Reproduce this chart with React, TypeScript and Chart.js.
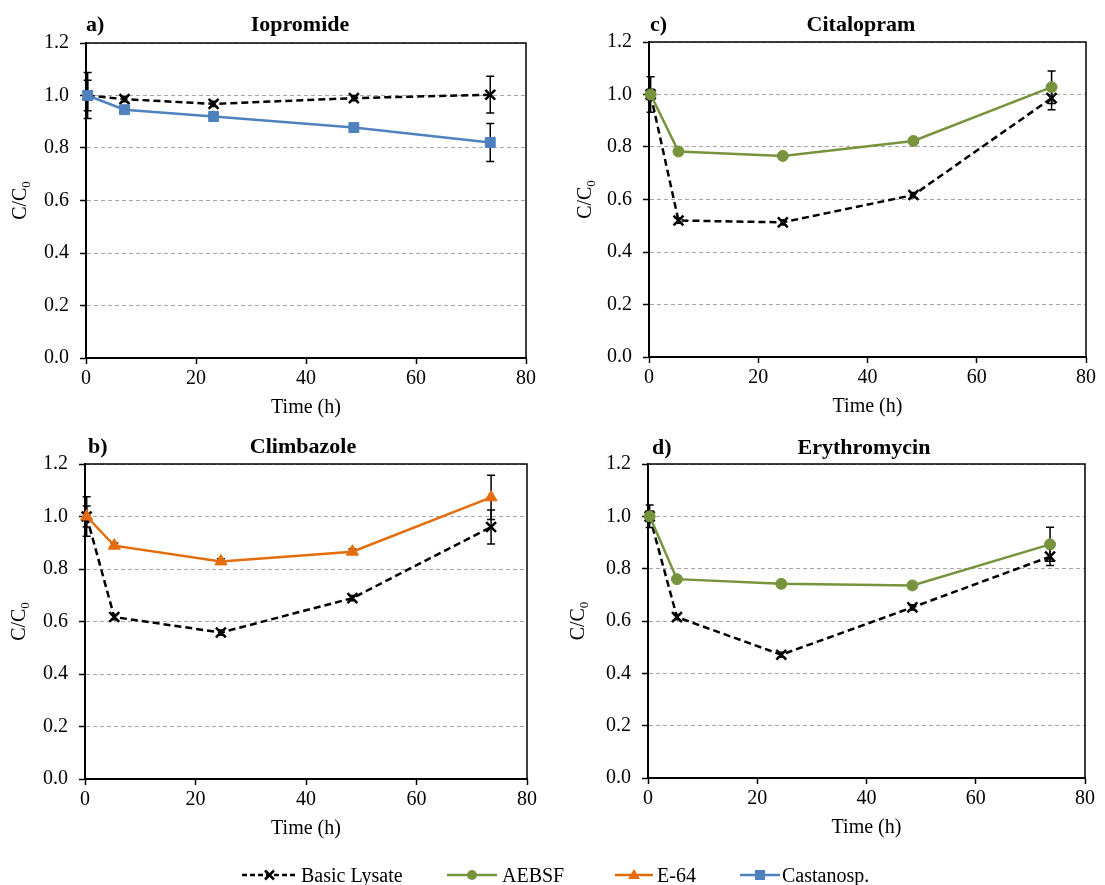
import React, { useEffect, useRef } from "react";
import { Chart, registerables } from "chart.js";

Chart.register(...registerables);

// ---------- data ----------
const xTicks = [0, 20, 40, 60, 80];
const yTicks = [0, 0.2, 0.4, 0.6, 0.8, 1.0, 1.2];

// a) Iopromide
const timesA = [0.3, 7, 23.2, 48.7, 73.5];
const basicA = [1.0, 0.986, 0.968, 0.99, 1.003];
const basicErrA = [0.088, 0.01, 0.01, 0.01, 0.07];
const castanospA = [1.0, 0.946, 0.92, 0.878, 0.821];
const castanospErrA = [0.058, 0.01, 0.01, 0.01, 0.072];

// c) Citalopram
const timesC = [0.3, 5.4, 24.5, 48.4, 73.7];
const basicC = [1.0, 0.52, 0.513, 0.617, 0.986];
const basicErrC = [0.068, 0.01, 0.01, 0.01, 0.044];
const aebsfC = [1.0, 0.783, 0.766, 0.823, 1.028];
const aebsfErrC = [0.02, 0.01, 0.01, 0.01, 0.062];

// b) Climbazole
const timesB = [0.3, 5.3, 24.6, 48.4, 73.5];
const basicB = [1.0, 0.617, 0.558, 0.689, 0.96];
const basicErrB = [0.075, 0.01, 0.01, 0.01, 0.065];
const e64B = [1.0, 0.889, 0.829, 0.866, 1.073];
const e64ErrB = [0.04, 0.01, 0.01, 0.01, 0.084];

// d) Erythromycin
const timesD = [0.3, 5.3, 24.4, 48.4, 73.6];
const basicD = [1.0, 0.615, 0.471, 0.652, 0.846];
const basicErrD = [0.043, 0.01, 0.01, 0.01, 0.034];
const aebsfD = [1.0, 0.76, 0.742, 0.736, 0.893];
const aebsfErrD = [0.02, 0.01, 0.01, 0.01, 0.065];

const seriesNames = ["Basic Lysate", "AEBSF", "E-64", "Castanosp."];

// ---------- styles ----------
const FONT = "'Liberation Serif', 'Times New Roman', serif";
const BLACK = "#000000";
const GREEN = "#77933C";
const ORANGE = "#E46C0A";
const BLUE = "#4F81BD";

const basicStyle = { color: BLACK, dash: [7, 4], point: "crossRot", radius: 7 };
const aebsfStyle = { color: GREEN, dash: [], point: "circle", radius: 5.5 };
const e64Style = { color: ORANGE, dash: [], point: "triangle", radius: 7 };
const castStyle = { color: BLUE, dash: [], point: "rect", radius: 7 };

const panels = [
  {
    label: "a)", title: "Iopromide", times: timesA,
    series: [
      { name: seriesNames[3], values: castanospA, errors: castanospErrA, style: castStyle },
      { name: seriesNames[0], values: basicA, errors: basicErrA, style: basicStyle },
    ],
    area: { l: 86, t: 43, r: 526, b: 358 }, labelX: 86, titleX: 300, titleY: 25, yTitleX: 19,
  },
  {
    label: "c)", title: "Citalopram", times: timesC,
    series: [
      { name: seriesNames[1], values: aebsfC, errors: aebsfErrC, style: aebsfStyle },
      { name: seriesNames[0], values: basicC, errors: basicErrC, style: basicStyle },
    ],
    area: { l: 649, t: 42, r: 1086, b: 357 }, labelX: 650, titleX: 861, titleY: 25, yTitleX: 584,
  },
  {
    label: "b)", title: "Climbazole", times: timesB,
    series: [
      { name: seriesNames[2], values: e64B, errors: e64ErrB, style: e64Style },
      { name: seriesNames[0], values: basicB, errors: basicErrB, style: basicStyle },
    ],
    area: { l: 85, t: 464, r: 527, b: 779 }, labelX: 88, titleX: 303, titleY: 447, yTitleX: 18,
  },
  {
    label: "d)", title: "Erythromycin", times: timesD,
    series: [
      { name: seriesNames[1], values: aebsfD, errors: aebsfErrD, style: aebsfStyle },
      { name: seriesNames[0], values: basicD, errors: basicErrD, style: basicStyle },
    ],
    area: { l: 648, t: 464, r: 1085, b: 778 }, labelX: 652, titleX: 864, titleY: 448, yTitleX: 577,
  },
];

const W = 1105;
const H = 885;
const YW = 60;
const XH = 40;

const errorBarsPlugin = {
  id: "errorBars",
  beforeDatasetsDraw(chart: any) {
    const { ctx, scales } = chart;
    const x = scales.x;
    const y = scales.y;
    ctx.save();
    ctx.strokeStyle = BLACK;
    ctx.lineWidth = 1.5;
    chart.data.datasets.forEach((ds: any) => {
      const errs = ds.errors as number[];
      if (!errs) return;
      ds.data.forEach((p: any, j: number) => {
        const e = errs[j];
        if (!e) return;
        const px = x.getPixelForValue(p.x);
        const y1 = y.getPixelForValue(p.y + e);
        const y2 = y.getPixelForValue(p.y - e);
        ctx.beginPath();
        ctx.moveTo(px, y1);
        ctx.lineTo(px, y2);
        ctx.moveTo(px - 4, y1);
        ctx.lineTo(px + 4, y1);
        ctx.moveTo(px - 4, y2);
        ctx.lineTo(px + 4, y2);
        ctx.stroke();
      });
    });
    ctx.restore();
  },
};

function makeDecorPlugin(cfg: any) {
  return {
    id: "decor",
    afterDraw(chart: any) {
      const { ctx, chartArea } = chart;
      ctx.save();
      // top and right frame lines
      ctx.strokeStyle = BLACK;
      ctx.lineWidth = 1.5;
      ctx.beginPath();
      ctx.moveTo(chartArea.left, chartArea.top);
      ctx.lineTo(chartArea.right, chartArea.top);
      ctx.lineTo(chartArea.right, chartArea.bottom);
      ctx.stroke();

      ctx.fillStyle = BLACK;
      // panel label and title
      ctx.font = `bold 22px ${FONT}`;
      ctx.textBaseline = "middle";
      ctx.textAlign = "left";
      ctx.fillText(cfg.label, cfg.labelX, cfg.titleY);
      ctx.textAlign = "center";
      ctx.fillText(cfg.title, cfg.titleX, cfg.titleY);

      // x title
      ctx.font = `20px ${FONT}`;
      ctx.textAlign = "center";
      ctx.textBaseline = "middle";
      ctx.fillText("Time (h)", (chartArea.left + chartArea.right) / 2, chartArea.bottom + 50);

      // y title C/C0 rotated
      const cy = (chartArea.top + chartArea.bottom) / 2;
      ctx.translate(cfg.yTitleX + 6.5, cy);
      ctx.rotate(-Math.PI / 2);
      ctx.textBaseline = "alphabetic";
      ctx.textAlign = "left";
      ctx.font = `20px ${FONT}`;
      const main = "C/C";
      const mw = ctx.measureText(main).width;
      ctx.font = `13px ${FONT}`;
      const sw = ctx.measureText("0").width;
      const total = mw + sw;
      ctx.font = `20px ${FONT}`;
      ctx.fillText(main, -total / 2, 0);
      ctx.font = `13px ${FONT}`;
      ctx.fillText("0", -total / 2 + mw, 4);
      ctx.restore();
    },
  };
}

function Panel({ cfg }: { cfg: any }) {
  const ref = useRef<HTMLCanvasElement>(null);
  useEffect(() => {
    if (!ref.current) return;
    const { l, t, r, b } = cfg.area;
    const datasets = cfg.series.map((s: any, i: number) => ({
      label: s.name,
      data: cfg.times.map((x: number, j: number) => ({ x, y: s.values[j] })),
      errors: s.errors,
      borderColor: s.style.color,
      backgroundColor: s.style.color,
      borderWidth: 2.5,
      borderDash: s.style.dash,
      pointStyle: s.style.point,
      pointRadius: s.style.radius,
      pointBorderWidth: s.style.point === "crossRot" ? 2.5 : 1,
      pointBackgroundColor: s.style.color,
      pointBorderColor: s.style.color,
      order: i,
      clip: false,
      tension: 0,
    }));
    const tickFont = { family: FONT, size: 20 };
    const chart = new Chart(ref.current, {
      type: "line",
      data: { datasets },
      options: {
        animation: false,
        responsive: false,
        devicePixelRatio: 1,
        events: [],
        layout: {
          autoPadding: false,
          padding: { left: l - YW, top: t, right: W - r, bottom: H - b - XH },
        },
        plugins: {
          legend: { display: false },
          tooltip: { enabled: false },
          title: { display: false },
        },
        scales: {
          x: {
            type: "linear",
            min: 0,
            max: 80,
            afterBuildTicks: (s: any) => {
              s.ticks = xTicks.map((v) => ({ value: v }));
            },
            afterFit: (s: any) => {
              s.height = XH;
            },
            grid: {
              drawOnChartArea: false,
              drawTicks: true,
              tickLength: 6,
              tickColor: BLACK,
              tickWidth: 1.5,
            },
            border: { color: BLACK, width: 2 },
            ticks: {
              color: BLACK,
              font: tickFont,
              padding: 3,
              maxRotation: 0,
              autoSkip: false,
              callback: (v: any) => String(v),
            },
          },
          y: {
            type: "linear",
            min: 0,
            max: 1.2,
            afterBuildTicks: (s: any) => {
              s.ticks = yTicks.map((v) => ({ value: v }));
            },
            afterFit: (s: any) => {
              s.width = YW;
            },
            grid: {
              color: "#A6A6A6",
              lineWidth: 1,
              drawTicks: true,
              tickLength: 6,
              tickColor: BLACK,
              tickWidth: 1.5,
            },
            border: { color: BLACK, width: 2, dash: [4, 3] },
            ticks: {
              color: BLACK,
              font: tickFont,
              padding: 11,
              autoSkip: false,
              callback: (v: any) => Number(v).toFixed(1),
            },
          },
        },
      } as any,
      plugins: [errorBarsPlugin, makeDecorPlugin(cfg)],
    });
    return () => chart.destroy();
  }, [cfg]);
  return (
    <canvas
      ref={ref}
      width={W}
      height={H}
      style={{ position: "absolute", left: 0, top: 0, width: W, height: H }}
    />
  );
}

const legendItems = [
  { name: seriesNames[0], style: basicStyle, lineX: 242, lineW: 55, textX: 301 },
  { name: seriesNames[1], style: aebsfStyle, lineX: 447, lineW: 50, textX: 502 },
  { name: seriesNames[2], style: e64Style, lineX: 615, lineW: 38, textX: 657 },
  { name: seriesNames[3], style: castStyle, lineX: 740, lineW: 40, textX: 782 },
];

function LegendMarker({ item }: { item: any }) {
  const w = item.lineW;
  const cx = w / 2;
  const cy = 10;
  const c = item.style.color;
  let marker: any = null;
  if (item.style.point === "crossRot") {
    marker = <path d={`M${cx - 4.5} ${cy - 4.5} L${cx + 4.5} ${cy + 4.5} M${cx + 4.5} ${cy - 4.5} L${cx - 4.5} ${cy + 4.5}`} stroke={c} strokeWidth={2.5} />;
  } else if (item.style.point === "circle") {
    marker = <circle cx={cx} cy={cy} r={5} fill={c} />;
  } else if (item.style.point === "triangle") {
    marker = <path d={`M${cx} ${cy - 6} L${cx + 6} ${cy + 4} L${cx - 6} ${cy + 4} Z`} fill={c} />;
  } else {
    marker = <rect x={cx - 5} y={cy - 5} width={10} height={10} fill={c} />;
  }
  return (
    <svg width={w} height={20} style={{ position: "absolute", left: item.lineX, top: 865 }}>
      <line
        x1={0}
        y1={cy}
        x2={w}
        y2={cy}
        stroke={c}
        strokeWidth={2.5}
        strokeDasharray={item.style.dash.length ? "5,3" : undefined}
      />
      {marker}
    </svg>
  );
}

export default function App() {
  return (
    <div style={{ position: "absolute", left: 0, top: 0, width: W, height: H, background: "#fff", overflow: "hidden" }}>
      {panels.map((p) => (
        <Panel key={p.label} cfg={p} />
      ))}
      {legendItems.map((it) => (
        <React.Fragment key={it.name}>
          <LegendMarker item={it} />
          <div
            style={{
              position: "absolute",
              left: it.textX,
              top: 862,
              fontFamily: FONT,
              fontSize: 20,
              lineHeight: "26px",
              color: "#000",
              whiteSpace: "nowrap",
            }}
          >
            {it.name}
          </div>
        </React.Fragment>
      ))}
    </div>
  );
}
